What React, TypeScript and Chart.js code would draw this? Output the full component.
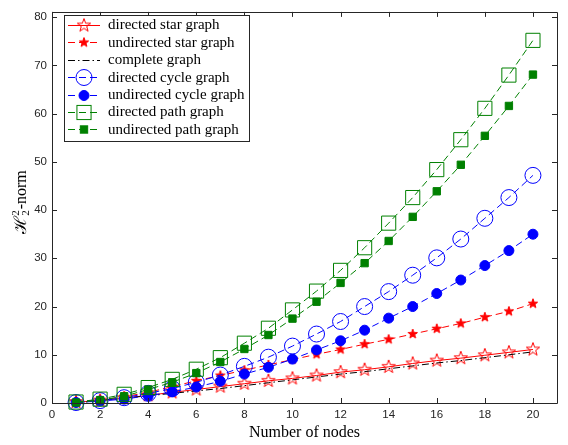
import { useEffect, useRef } from 'react';
import { Chart, registerables } from 'chart.js';

Chart.register(...registerables);

const nodes = [1, 2, 3, 4, 5, 6, 7, 8, 9, 10, 11, 12, 13, 14, 15, 16, 17, 18, 19, 20];
const directedStar = [0.2, 0.5, 1.0, 1.6, 2.2, 2.8, 3.4, 4.0, 4.6, 5.1, 5.7, 6.4, 6.9, 7.5, 8.2, 8.8, 9.3, 9.9, 10.5, 11.1];
const undirectedStar = [0.2, 0.6, 1.3, 2.2, 3.4, 4.6, 5.7, 6.8, 7.9, 9.0, 10.1, 11.1, 12.2, 13.2, 14.3, 15.4, 16.5, 17.8, 19.0, 20.6];
const completeGraph = [0.0, 0.5, 1.0, 1.5, 2.0, 2.5, 3.0, 3.6, 4.2, 4.8, 5.4, 6.0, 6.5, 7.1, 7.7, 8.3, 8.8, 9.4, 10.0, 10.6];
const directedCycle = [0.1, 0.5, 1.1, 2.0, 3.0, 4.3, 5.8, 7.6, 9.5, 11.8, 14.3, 16.9, 20.0, 23.1, 26.5, 30.1, 34.0, 38.3, 42.6, 47.2];
const undirectedCycle = [0.1, 0.4, 0.8, 1.5, 2.3, 3.3, 4.5, 6.0, 7.4, 9.1, 11.0, 12.9, 15.1, 17.6, 20.0, 22.7, 25.5, 28.5, 31.6, 35.0];
const directedPath = [0.2, 0.8, 1.8, 3.2, 4.9, 7.0, 9.4, 12.4, 15.5, 19.3, 23.2, 27.5, 32.2, 37.3, 42.6, 48.4, 54.6, 61.1, 68.0, 75.2];
const undirectedPath = [0.1, 0.6, 1.4, 2.8, 4.3, 6.2, 8.5, 11.2, 14.1, 17.5, 21.0, 24.9, 29.0, 33.6, 38.6, 43.9, 49.4, 55.4, 61.6, 68.1];
const xTicks = [0, 2, 4, 6, 8, 10, 12, 14, 16, 18, 20];
const yTicks = [0, 10, 20, 30, 40, 50, 60, 70, 80];
const seriesLabels = [
  'directed star graph',
  'undirected star graph',
  'complete graph',
  'directed cycle graph',
  'undirected cycle graph',
  'directed path graph',
  'undirected path graph',
];

const RED = '#ff0000';
const BLUE = '#0000ff';
const GREEN = '#008000';
const BLACK = '#000000';
const AXIS = '#262626';
const DASH = [7, 4];
const DASHDOT = [7, 3, 1.5, 3];
const SERIF = '"Liberation Serif", "Times New Roman", serif';

function makeStar(R: number, filled: boolean, color: string): HTMLCanvasElement {
  const size = Math.ceil(2 * R + 4);
  const c = document.createElement('canvas');
  c.width = size;
  c.height = size;
  const ctx = c.getContext('2d')!;
  const cx = size / 2;
  const cy = size / 2;
  ctx.beginPath();
  for (let i = 0; i < 10; i++) {
    const r = i % 2 === 0 ? R : R * 0.4;
    const a = -Math.PI / 2 + (i * Math.PI) / 5;
    const x = cx + r * Math.cos(a);
    const y = cy + r * Math.sin(a);
    if (i === 0) ctx.moveTo(x, y);
    else ctx.lineTo(x, y);
  }
  ctx.closePath();
  if (filled) {
    ctx.fillStyle = color;
    ctx.fill();
  }
  ctx.strokeStyle = color;
  ctx.lineWidth = 1;
  ctx.stroke();
  return c;
}

type Spec = {
  label: string;
  values: number[];
  color: string;
  dash: number[];
  marker: 'openStar' | 'star' | 'none' | 'openCircle' | 'circle' | 'openSquare' | 'square';
  order: number;
};

export default function App() {
  const canvasRef = useRef<HTMLCanvasElement | null>(null);

  useEffect(() => {
    if (!canvasRef.current) return;
    const openStar = makeStar(7, false, RED);
    const fullStar = makeStar(5, true, RED);

    const specs: Spec[] = [
      { label: seriesLabels[0], values: directedStar, color: RED, dash: [], marker: 'openStar', order: 7 },
      { label: seriesLabels[1], values: undirectedStar, color: RED, dash: DASH, marker: 'star', order: 6 },
      { label: seriesLabels[2], values: completeGraph, color: BLACK, dash: DASHDOT, marker: 'none', order: 5 },
      { label: seriesLabels[3], values: directedCycle, color: BLUE, dash: DASH, marker: 'openCircle', order: 4 },
      { label: seriesLabels[4], values: undirectedCycle, color: BLUE, dash: DASH, marker: 'circle', order: 3 },
      { label: seriesLabels[5], values: directedPath, color: GREEN, dash: DASH, marker: 'openSquare', order: 2 },
      { label: seriesLabels[6], values: undirectedPath, color: GREEN, dash: DASH, marker: 'square', order: 1 },
    ];

    const pointOpts = (s: Spec) => {
      switch (s.marker) {
        case 'openStar':
          return { pointStyle: openStar, pointRadius: 7, pointBackgroundColor: 'rgba(0,0,0,0)' };
        case 'star':
          return { pointStyle: fullStar, pointRadius: 5, pointBackgroundColor: s.color };
        case 'openCircle':
          return { pointStyle: 'circle', pointRadius: 8, pointBackgroundColor: 'rgba(0,0,0,0)' };
        case 'circle':
          return { pointStyle: 'circle', pointRadius: 5, pointBackgroundColor: s.color };
        case 'openSquare':
          return { pointStyle: 'rect', pointRadius: 10, pointBackgroundColor: 'rgba(0,0,0,0)' };
        case 'square':
          return { pointStyle: 'rect', pointRadius: 5.2, pointBackgroundColor: s.color };
        default:
          return { pointStyle: 'circle', pointRadius: 0, pointBackgroundColor: s.color };
      }
    };

    const drawMarker = (ctx: CanvasRenderingContext2D, s: Spec, x: number, y: number) => {
      ctx.save();
      ctx.setLineDash([]);
      ctx.lineWidth = 1;
      ctx.strokeStyle = s.color;
      ctx.fillStyle = s.color;
      switch (s.marker) {
        case 'openStar':
          ctx.drawImage(openStar, x - openStar.width / 2, y - openStar.height / 2);
          break;
        case 'star':
          ctx.drawImage(fullStar, x - fullStar.width / 2, y - fullStar.height / 2);
          break;
        case 'openCircle':
          ctx.beginPath();
          ctx.arc(x, y, 8, 0, Math.PI * 2);
          ctx.stroke();
          break;
        case 'circle':
          ctx.beginPath();
          ctx.arc(x, y, 5, 0, Math.PI * 2);
          ctx.fill();
          ctx.stroke();
          break;
        case 'openSquare': {
          const h = 10 * Math.SQRT1_2;
          ctx.strokeRect(x - h, y - h, 2 * h, 2 * h);
          break;
        }
        case 'square': {
          const h = 5.2 * Math.SQRT1_2;
          ctx.fillRect(x - h, y - h, 2 * h, 2 * h);
          ctx.strokeRect(x - h, y - h, 2 * h, 2 * h);
          break;
        }
        default:
          break;
      }
      ctx.restore();
    };

    const decorPlugin = {
      id: 'decor',
      afterDraw(chart: any) {
        const ctx: CanvasRenderingContext2D = chart.ctx;
        const { left, right, top, bottom } = chart.chartArea;
        const xs = chart.scales.x;
        const ys = chart.scales.y;
        ctx.save();
        // frame with inward ticks
        ctx.strokeStyle = AXIS;
        ctx.lineWidth = 1;
        ctx.setLineDash([]);
        ctx.beginPath();
        ctx.rect(Math.round(left) + 0.5, Math.round(top) + 0.5, Math.round(right - left), Math.round(bottom - top));
        ctx.stroke();
        const tl = 5;
        ctx.beginPath();
        xTicks.forEach((v) => {
          const px = Math.round(xs.getPixelForValue(v)) + 0.5;
          ctx.moveTo(px, bottom);
          ctx.lineTo(px, bottom - tl);
          ctx.moveTo(px, top);
          ctx.lineTo(px, top + tl);
        });
        yTicks.forEach((v) => {
          const py = Math.round(ys.getPixelForValue(v)) + 0.5;
          ctx.moveTo(left, py);
          ctx.lineTo(left + tl, py);
          ctx.moveTo(right, py);
          ctx.lineTo(right - tl, py);
        });
        ctx.stroke();

        // axis titles
        ctx.fillStyle = BLACK;
        ctx.font = `16px ${SERIF}`;
        ctx.textAlign = 'center';
        ctx.textBaseline = 'middle';
        ctx.fillText('Number of nodes', (left + right) / 2, 433);

        // y title: H_2^2-norm
        ctx.save();
        ctx.translate(26, 202);
        ctx.rotate(-Math.PI / 2);
        ctx.textBaseline = 'alphabetic';
        ctx.textAlign = 'left';
        const hFont = `17px "DejaVu Serif", ${SERIF}`;
        const sFont = `11px ${SERIF}`;
        const nFont = `16px ${SERIF}`;
        ctx.font = hFont;
        const wH = ctx.measureText('ℋ').width;
        ctx.font = sFont;
        const wS = ctx.measureText('2').width;
        ctx.font = nFont;
        const wN = ctx.measureText('-norm').width;
        const total = wH + wS + 1 + wN;
        let x0 = -total / 2;
        ctx.font = hFont;
        ctx.fillText('ℋ', x0, 0);
        x0 += wH;
        ctx.font = sFont;
        ctx.fillText('2', x0, -7);
        ctx.fillText('2', x0, 3);
        x0 += wS + 1;
        ctx.font = nFont;
        ctx.fillText('-norm', x0, 0);
        ctx.restore();

        // legend
        const bx = 64.5;
        const by = 15.5;
        const bw = 185;
        const bh = 126;
        ctx.fillStyle = '#ffffff';
        ctx.fillRect(bx, by, bw, bh);
        ctx.strokeStyle = AXIS;
        ctx.lineWidth = 1;
        ctx.strokeRect(bx, by, bw, bh);
        ctx.font = `15px ${SERIF}`;
        ctx.textAlign = 'left';
        ctx.textBaseline = 'middle';
        specs.forEach((s, i) => {
          const y = 25 + i * 17.4;
          ctx.save();
          ctx.strokeStyle = s.color;
          ctx.lineWidth = 1;
          ctx.setLineDash(s.dash);
          ctx.beginPath();
          ctx.moveTo(68, Math.round(y) + 0.5);
          ctx.lineTo(100, Math.round(y) + 0.5);
          ctx.stroke();
          ctx.restore();
          drawMarker(ctx, s, 84, Math.round(y) + 0.5);
          ctx.fillStyle = BLACK;
          ctx.fillText(s.label, 108, y + 0.5);
        });
        ctx.restore();
      },
    };

    const chart = new Chart(canvasRef.current, {
      type: 'line',
      data: {
        datasets: specs.map((s) => ({
          label: s.label,
          data: nodes.map((n, i) => ({ x: n, y: s.values[i] })),
          borderColor: s.color,
          borderWidth: 1,
          borderDash: s.dash,
          pointBorderColor: s.color,
          pointBorderWidth: 1,
          ...pointOpts(s),
          fill: false,
          tension: 0,
          clip: false as any,
          order: s.order,
        })) as any,
      },
      options: {
        animation: false,
        responsive: true,
        maintainAspectRatio: false,
        events: [],
        layout: { padding: { top: 4, right: 11, left: 0, bottom: 0 } },
        plugins: {
          legend: { display: false },
          tooltip: { enabled: false },
          title: { display: false },
        },
        scales: {
          x: {
            type: 'linear',
            min: 0,
            max: 21,
            grid: { display: false, drawTicks: false },
            border: { display: false },
            afterBuildTicks: (s: any) => {
              s.ticks = xTicks.map((v) => ({ value: v }));
            },
            afterFit: (s: any) => {
              s.height = 42;
            },
            ticks: {
              padding: 5,
              color: AXIS,
              maxRotation: 0,
              autoSkip: false,
              font: { family: '"Liberation Sans", Arial, sans-serif', size: 11.5 },
            },
          },
          y: {
            type: 'linear',
            min: 0,
            max: 81.1,
            grid: { display: false, drawTicks: false },
            border: { display: false },
            afterBuildTicks: (s: any) => {
              s.ticks = yTicks.map((v) => ({ value: v }));
            },
            afterFit: (s: any) => {
              s.width = 52;
            },
            ticks: {
              padding: 5,
              color: AXIS,
              autoSkip: false,
              font: { family: '"Liberation Sans", Arial, sans-serif', size: 11.5 },
            },
          },
        },
      },
      plugins: [decorPlugin],
    });

    return () => {
      chart.destroy();
    };
  }, []);

  return (
    <div style={{ position: 'fixed', left: 0, top: 0, width: 568, height: 445, background: '#ffffff' }}>
      <canvas ref={canvasRef} />
    </div>
  );
}
